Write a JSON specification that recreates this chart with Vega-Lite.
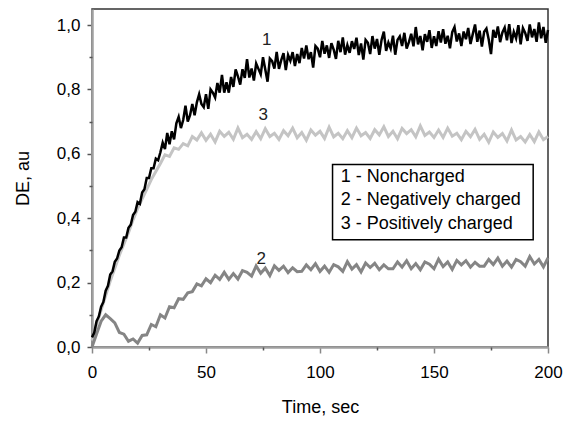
{
"$schema":"https://vega.github.io/schema/vega-lite/v6.json",
"width":456,"height":338,
"autosize":{"type":"none"},
"padding":{"left":92,"top":9,"right":20,"bottom":77},
"background":"white",
"config":{"view":{"stroke":"#333","strokeWidth":1.5},"font":"Liberation Sans"},
"datasets":{
"curves":[
{"t":0,"v":0.03,"s":"1"},{"t":1,"v":0.045,"s":"1"},{"t":2,"v":0.08,"s":"1"},{"t":3,"v":0.095,"s":"1"},{"t":4,"v":0.125,"s":"1"},{"t":5,"v":0.14,"s":"1"},{"t":6,"v":0.175,"s":"1"},{"t":7,"v":0.19,"s":"1"},{"t":8,"v":0.225,"s":"1"},{"t":9,"v":0.235,"s":"1"},
{"t":10,"v":0.265,"s":"1"},{"t":11,"v":0.275,"s":"1"},{"t":12,"v":0.30,"s":"1"},{"t":13,"v":0.31,"s":"1"},{"t":14,"v":0.34,"s":"1"},{"t":15,"v":0.34,"s":"1"},{"t":16,"v":0.37,"s":"1"},{"t":17,"v":0.38,"s":"1"},{"t":18,"v":0.41,"s":"1"},{"t":19,"v":0.42,"s":"1"},
{"t":20,"v":0.45,"s":"1"},{"t":21,"v":0.445,"s":"1"},{"t":22,"v":0.48,"s":"1"},{"t":23,"v":0.49,"s":"1"},{"t":24,"v":0.525,"s":"1"},{"t":25,"v":0.525,"s":"1"},{"t":26,"v":0.555,"s":"1"},{"t":27,"v":0.555,"s":"1"},{"t":28,"v":0.585,"s":"1"},{"t":29,"v":0.58,"s":"1"},
{"t":30,"v":0.605,"s":"1"},{"t":31,"v":0.635,"s":"1"},{"t":32,"v":0.615,"s":"1"},{"t":33,"v":0.665,"s":"1"},{"t":34,"v":0.63,"s":"1"},{"t":35,"v":0.67,"s":"1"},{"t":36,"v":0.645,"s":"1"},{"t":37,"v":0.695,"s":"1"},{"t":38,"v":0.715,"s":"1"},{"t":39,"v":0.68,"s":"1"},
{"t":40,"v":0.705,"s":"1"},{"t":41,"v":0.75,"s":"1"},{"t":42,"v":0.70,"s":"1"},{"t":43,"v":0.72,"s":"1"},{"t":44,"v":0.755,"s":"1"},{"t":45,"v":0.72,"s":"1"},{"t":46,"v":0.76,"s":"1"},{"t":47,"v":0.785,"s":"1"},{"t":48,"v":0.755,"s":"1"},{"t":49,"v":0.745,"s":"1"},
{"t":50,"v":0.785,"s":"1"},{"t":51,"v":0.74,"s":"1"},{"t":52,"v":0.80,"s":"1"},{"t":53,"v":0.79,"s":"1"},{"t":54,"v":0.775,"s":"1"},{"t":55,"v":0.82,"s":"1"},{"t":56,"v":0.79,"s":"1"},{"t":57,"v":0.845,"s":"1"},{"t":58,"v":0.79,"s":"1"},{"t":59,"v":0.822,"s":"1"},
{"t":60,"v":0.79,"s":"1"},{"t":61,"v":0.839,"s":"1"},{"t":62,"v":0.808,"s":"1"},{"t":63,"v":0.862,"s":"1"},{"t":64,"v":0.841,"s":"1"},{"t":65,"v":0.815,"s":"1"},{"t":66,"v":0.863,"s":"1"},{"t":67,"v":0.836,"s":"1"},{"t":68,"v":0.894,"s":"1"},{"t":69,"v":0.837,"s":"1"},
{"t":70,"v":0.865,"s":"1"},{"t":71,"v":0.828,"s":"1"},{"t":72,"v":0.881,"s":"1"},{"t":73,"v":0.864,"s":"1"},{"t":74,"v":0.847,"s":"1"},{"t":75,"v":0.90,"s":"1"},{"t":76,"v":0.862,"s":"1"},{"t":77,"v":0.824,"s":"1"},{"t":78,"v":0.896,"s":"1"},{"t":79,"v":0.888,"s":"1"},
{"t":80,"v":0.865,"s":"1"},{"t":81,"v":0.917,"s":"1"},{"t":82,"v":0.864,"s":"1"},{"t":83,"v":0.891,"s":"1"},{"t":84,"v":0.913,"s":"1"},{"t":85,"v":0.86,"s":"1"},{"t":86,"v":0.907,"s":"1"},{"t":87,"v":0.889,"s":"1"},{"t":88,"v":0.916,"s":"1"},{"t":89,"v":0.873,"s":"1"},
{"t":90,"v":0.91,"s":"1"},{"t":91,"v":0.882,"s":"1"},{"t":92,"v":0.929,"s":"1"},{"t":93,"v":0.896,"s":"1"},{"t":94,"v":0.937,"s":"1"},{"t":95,"v":0.894,"s":"1"},{"t":96,"v":0.916,"s":"1"},{"t":97,"v":0.868,"s":"1"},{"t":98,"v":0.935,"s":"1"},{"t":99,"v":0.927,"s":"1"},
{"t":100,"v":0.90,"s":"1"},{"t":101,"v":0.951,"s":"1"},{"t":102,"v":0.911,"s":"1"},{"t":103,"v":0.937,"s":"1"},{"t":104,"v":0.898,"s":"1"},{"t":105,"v":0.944,"s":"1"},{"t":106,"v":0.924,"s":"1"},{"t":107,"v":0.895,"s":"1"},{"t":108,"v":0.951,"s":"1"},{"t":109,"v":0.916,"s":"1"},
{"t":110,"v":0.962,"s":"1"},{"t":111,"v":0.908,"s":"1"},{"t":112,"v":0.938,"s":"1"},{"t":113,"v":0.914,"s":"1"},{"t":114,"v":0.95,"s":"1"},{"t":115,"v":0.926,"s":"1"},{"t":116,"v":0.961,"s":"1"},{"t":117,"v":0.907,"s":"1"},{"t":118,"v":0.943,"s":"1"},{"t":119,"v":0.893,"s":"1"},
{"t":120,"v":0.954,"s":"1"},{"t":121,"v":0.945,"s":"1"},{"t":122,"v":0.91,"s":"1"},{"t":123,"v":0.966,"s":"1"},{"t":124,"v":0.927,"s":"1"},{"t":125,"v":0.957,"s":"1"},{"t":126,"v":0.908,"s":"1"},{"t":127,"v":0.954,"s":"1"},{"t":128,"v":0.98,"s":"1"},{"t":129,"v":0.92,"s":"1"},
{"t":130,"v":0.946,"s":"1"},{"t":131,"v":0.927,"s":"1"},{"t":132,"v":0.967,"s":"1"},{"t":133,"v":0.908,"s":"1"},{"t":134,"v":0.954,"s":"1"},{"t":135,"v":0.965,"s":"1"},{"t":136,"v":0.935,"s":"1"},{"t":137,"v":0.976,"s":"1"},{"t":138,"v":0.927,"s":"1"},{"t":139,"v":0.947,"s":"1"},
{"t":140,"v":0.973,"s":"1"},{"t":141,"v":0.934,"s":"1"},{"t":142,"v":0.994,"s":"1"},{"t":143,"v":0.94,"s":"1"},{"t":144,"v":0.966,"s":"1"},{"t":145,"v":0.922,"s":"1"},{"t":146,"v":0.972,"s":"1"},{"t":147,"v":0.948,"s":"1"},{"t":148,"v":0.984,"s":"1"},{"t":149,"v":0.929,"s":"1"},
{"t":150,"v":0.965,"s":"1"},{"t":151,"v":0.935,"s":"1"},{"t":152,"v":0.981,"s":"1"},{"t":153,"v":0.946,"s":"1"},{"t":154,"v":0.987,"s":"1"},{"t":155,"v":0.942,"s":"1"},{"t":156,"v":0.967,"s":"1"},{"t":157,"v":0.928,"s":"1"},{"t":158,"v":0.978,"s":"1"},{"t":159,"v":0.994,"s":"1"},
{"t":160,"v":0.949,"s":"1"},{"t":161,"v":0.974,"s":"1"},{"t":162,"v":0.935,"s":"1"},{"t":163,"v":0.98,"s":"1"},{"t":164,"v":0.956,"s":"1"},{"t":165,"v":0.991,"s":"1"},{"t":166,"v":0.941,"s":"1"},{"t":167,"v":0.972,"s":"1"},{"t":168,"v":1.002,"s":"1"},{"t":169,"v":0.948,"s":"1"},
{"t":170,"v":0.983,"s":"1"},{"t":171,"v":0.933,"s":"1"},{"t":172,"v":0.979,"s":"1"},{"t":173,"v":0.989,"s":"1"},{"t":174,"v":0.955,"s":"1"},{"t":175,"v":0.91,"s":"1"},{"t":176,"v":0.985,"s":"1"},{"t":177,"v":0.961,"s":"1"},{"t":178,"v":0.996,"s":"1"},{"t":179,"v":0.947,"s":"1"},
{"t":180,"v":0.977,"s":"1"},{"t":181,"v":0.992,"s":"1"},{"t":182,"v":0.953,"s":"1"},{"t":183,"v":1.003,"s":"1"},{"t":184,"v":0.944,"s":"1"},{"t":185,"v":0.979,"s":"1"},{"t":186,"v":0.959,"s":"1"},{"t":187,"v":1.0,"s":"1"},{"t":188,"v":0.94,"s":"1"},{"t":189,"v":0.991,"s":"1"},
{"t":190,"v":0.976,"s":"1"},{"t":191,"v":0.951,"s":"1"},{"t":192,"v":1.002,"s":"1"},{"t":193,"v":0.962,"s":"1"},{"t":194,"v":0.988,"s":"1"},{"t":195,"v":0.948,"s":"1"},{"t":196,"v":1.008,"s":"1"},{"t":197,"v":0.959,"s":"1"},{"t":198,"v":0.994,"s":"1"},{"t":199,"v":0.945,"s":"1"},
{"t":200,"v":0.985,"s":"1"},
{"t":0,"v":0.02,"s":"3"},{"t":2,"v":0.07,"s":"3"},{"t":4,"v":0.115,"s":"3"},{"t":6,"v":0.16,"s":"3"},{"t":8,"v":0.205,"s":"3"},{"t":10,"v":0.245,"s":"3"},{"t":12,"v":0.285,"s":"3"},{"t":14,"v":0.32,"s":"3"},{"t":16,"v":0.355,"s":"3"},{"t":18,"v":0.395,"s":"3"},
{"t":20,"v":0.43,"s":"3"},{"t":22,"v":0.46,"s":"3"},{"t":24,"v":0.49,"s":"3"},{"t":26,"v":0.52,"s":"3"},{"t":28,"v":0.545,"s":"3"},{"t":30,"v":0.57,"s":"3"},{"t":32,"v":0.597,"s":"3"},{"t":34,"v":0.592,"s":"3"},{"t":36,"v":0.619,"s":"3"},{"t":38,"v":0.614,"s":"3"},
{"t":40,"v":0.632,"s":"3"},{"t":42,"v":0.625,"s":"3"},{"t":44,"v":0.654,"s":"3"},{"t":46,"v":0.643,"s":"3"},{"t":48,"v":0.665,"s":"3"},{"t":50,"v":0.642,"s":"3"},{"t":52,"v":0.661,"s":"3"},{"t":54,"v":0.637,"s":"3"},{"t":56,"v":0.67,"s":"3"},{"t":58,"v":0.654,"s":"3"},
{"t":60,"v":0.667,"s":"3"},{"t":62,"v":0.645,"s":"3"},{"t":64,"v":0.68,"s":"3"},{"t":66,"v":0.65,"s":"3"},{"t":68,"v":0.661,"s":"3"},{"t":70,"v":0.645,"s":"3"},{"t":72,"v":0.669,"s":"3"},{"t":74,"v":0.647,"s":"3"},{"t":76,"v":0.678,"s":"3"},{"t":78,"v":0.654,"s":"3"},
{"t":80,"v":0.664,"s":"3"},{"t":82,"v":0.645,"s":"3"},{"t":84,"v":0.672,"s":"3"},{"t":86,"v":0.656,"s":"3"},{"t":88,"v":0.68,"s":"3"},{"t":90,"v":0.65,"s":"3"},{"t":92,"v":0.666,"s":"3"},{"t":94,"v":0.642,"s":"3"},{"t":96,"v":0.674,"s":"3"},{"t":98,"v":0.658,"s":"3"},
{"t":100,"v":0.67,"s":"3"},{"t":102,"v":0.648,"s":"3"},{"t":104,"v":0.683,"s":"3"},{"t":106,"v":0.653,"s":"3"},{"t":108,"v":0.664,"s":"3"},{"t":110,"v":0.647,"s":"3"},{"t":112,"v":0.672,"s":"3"},{"t":114,"v":0.65,"s":"3"},{"t":116,"v":0.68,"s":"3"},{"t":118,"v":0.656,"s":"3"},
{"t":120,"v":0.666,"s":"3"},{"t":122,"v":0.648,"s":"3"},{"t":124,"v":0.675,"s":"3"},{"t":126,"v":0.659,"s":"3"},{"t":128,"v":0.684,"s":"3"},{"t":130,"v":0.654,"s":"3"},{"t":132,"v":0.67,"s":"3"},{"t":134,"v":0.647,"s":"3"},{"t":136,"v":0.679,"s":"3"},{"t":138,"v":0.663,"s":"3"},
{"t":140,"v":0.675,"s":"3"},{"t":142,"v":0.653,"s":"3"},{"t":144,"v":0.687,"s":"3"},{"t":146,"v":0.657,"s":"3"},{"t":148,"v":0.668,"s":"3"},{"t":150,"v":0.651,"s":"3"},{"t":152,"v":0.674,"s":"3"},{"t":154,"v":0.651,"s":"3"},{"t":156,"v":0.68,"s":"3"},{"t":158,"v":0.655,"s":"3"},
{"t":160,"v":0.664,"s":"3"},{"t":162,"v":0.644,"s":"3"},{"t":164,"v":0.67,"s":"3"},{"t":166,"v":0.653,"s":"3"},{"t":168,"v":0.676,"s":"3"},{"t":170,"v":0.645,"s":"3"},{"t":172,"v":0.661,"s":"3"},{"t":174,"v":0.636,"s":"3"},{"t":176,"v":0.668,"s":"3"},{"t":178,"v":0.651,"s":"3"},
{"t":180,"v":0.663,"s":"3"},{"t":182,"v":0.64,"s":"3"},{"t":184,"v":0.674,"s":"3"},{"t":186,"v":0.643,"s":"3"},{"t":188,"v":0.654,"s":"3"},{"t":190,"v":0.637,"s":"3"},{"t":192,"v":0.66,"s":"3"},{"t":194,"v":0.638,"s":"3"},{"t":196,"v":0.668,"s":"3"},{"t":198,"v":0.644,"s":"3"},
{"t":200,"v":0.654,"s":"3"},
{"t":0,"v":0.0,"s":"2"},{"t":2,"v":0.04,"s":"2"},{"t":4,"v":0.08,"s":"2"},{"t":6,"v":0.10,"s":"2"},{"t":8,"v":0.088,"s":"2"},{"t":10,"v":0.075,"s":"2"},{"t":12,"v":0.045,"s":"2"},{"t":14,"v":0.04,"s":"2"},{"t":16,"v":0.018,"s":"2"},{"t":18,"v":0.025,"s":"2"},
{"t":20,"v":0.012,"s":"2"},{"t":22,"v":0.036,"s":"2"},{"t":24,"v":0.038,"s":"2"},{"t":26,"v":0.07,"s":"2"},{"t":28,"v":0.063,"s":"2"},{"t":30,"v":0.1,"s":"2"},{"t":32,"v":0.09,"s":"2"},{"t":34,"v":0.125,"s":"2"},{"t":36,"v":0.122,"s":"2"},{"t":38,"v":0.15,"s":"2"},
{"t":40,"v":0.148,"s":"2"},{"t":42,"v":0.168,"s":"2"},{"t":44,"v":0.172,"s":"2"},{"t":46,"v":0.196,"s":"2"},{"t":48,"v":0.19,"s":"2"},{"t":50,"v":0.212,"s":"2"},{"t":52,"v":0.2,"s":"2"},{"t":54,"v":0.223,"s":"2"},{"t":56,"v":0.21,"s":"2"},{"t":58,"v":0.232,"s":"2"},
{"t":60,"v":0.21,"s":"2"},{"t":62,"v":0.228,"s":"2"},{"t":64,"v":0.211,"s":"2"},{"t":66,"v":0.237,"s":"2"},{"t":68,"v":0.232,"s":"2"},{"t":70,"v":0.22,"s":"2"},{"t":72,"v":0.252,"s":"2"},{"t":74,"v":0.229,"s":"2"},{"t":76,"v":0.245,"s":"2"},{"t":78,"v":0.222,"s":"2"},
{"t":80,"v":0.252,"s":"2"},{"t":82,"v":0.238,"s":"2"},{"t":84,"v":0.251,"s":"2"},{"t":86,"v":0.231,"s":"2"},{"t":88,"v":0.246,"s":"2"},{"t":90,"v":0.234,"s":"2"},{"t":92,"v":0.235,"s":"2"},{"t":94,"v":0.255,"s":"2"},{"t":96,"v":0.24,"s":"2"},{"t":98,"v":0.259,"s":"2"},
{"t":100,"v":0.235,"s":"2"},{"t":102,"v":0.251,"s":"2"},{"t":104,"v":0.232,"s":"2"},{"t":106,"v":0.256,"s":"2"},{"t":108,"v":0.249,"s":"2"},{"t":110,"v":0.235,"s":"2"},{"t":112,"v":0.265,"s":"2"},{"t":114,"v":0.242,"s":"2"},{"t":116,"v":0.256,"s":"2"},{"t":118,"v":0.233,"s":"2"},
{"t":120,"v":0.261,"s":"2"},{"t":122,"v":0.247,"s":"2"},{"t":124,"v":0.26,"s":"2"},{"t":126,"v":0.24,"s":"2"},{"t":128,"v":0.255,"s":"2"},{"t":130,"v":0.243,"s":"2"},{"t":132,"v":0.243,"s":"2"},{"t":134,"v":0.264,"s":"2"},{"t":136,"v":0.248,"s":"2"},{"t":138,"v":0.268,"s":"2"},
{"t":140,"v":0.243,"s":"2"},{"t":142,"v":0.259,"s":"2"},{"t":144,"v":0.24,"s":"2"},{"t":146,"v":0.264,"s":"2"},{"t":148,"v":0.257,"s":"2"},{"t":150,"v":0.243,"s":"2"},{"t":152,"v":0.273,"s":"2"},{"t":154,"v":0.25,"s":"2"},{"t":156,"v":0.264,"s":"2"},{"t":158,"v":0.241,"s":"2"},
{"t":160,"v":0.269,"s":"2"},{"t":162,"v":0.255,"s":"2"},{"t":164,"v":0.268,"s":"2"},{"t":166,"v":0.248,"s":"2"},{"t":168,"v":0.263,"s":"2"},{"t":170,"v":0.251,"s":"2"},{"t":172,"v":0.251,"s":"2"},{"t":174,"v":0.272,"s":"2"},{"t":176,"v":0.256,"s":"2"},{"t":178,"v":0.276,"s":"2"},
{"t":180,"v":0.251,"s":"2"},{"t":182,"v":0.267,"s":"2"},{"t":184,"v":0.248,"s":"2"},{"t":186,"v":0.272,"s":"2"},{"t":188,"v":0.265,"s":"2"},{"t":190,"v":0.251,"s":"2"},{"t":192,"v":0.281,"s":"2"},{"t":194,"v":0.258,"s":"2"},{"t":196,"v":0.272,"s":"2"},{"t":198,"v":0.249,"s":"2"},
{"t":200,"v":0.277,"s":"2"}
],
"box":[{"x1":105.5,"x2":193.5,"y1":0.333,"y2":0.567}],
"legend":[{"x":109.1,"y":0.512,"label":"1 - Noncharged"},{"x":109.1,"y":0.44,"label":"2 - Negatively charged"},{"x":109.1,"y":0.367,"label":"3 - Positively charged"}],
"labels":[{"x":76.6,"y":0.937,"label":"1"},{"x":75.1,"y":0.705,"label":"3"},{"x":74.2,"y":0.258,"label":"2"}]
},
"resolve":{"axis":{"x":"independent","y":"independent"}},
"layer":[
{"data":{"name":"curves"},"transform":[{"filter":"datum.s == '3'"}],
 "mark":{"type":"line","color":"#c4c4c4","strokeWidth":3},
 "encoding":{
  "x":{"field":"t","type":"quantitative","scale":{"domain":[0,200],"nice":false,"zero":false},
   "axis":{"orient":"bottom","values":[0,50,100,150,200],"format":"d","tickSize":6,"tickWidth":1.5,"tickColor":"#888","labelPadding":11,"labelFontSize":17,"labelFont":"Liberation Sans","labelColor":"#000","labelFlush":false,"labelOverlap":false,"domainColor":"#a0a0a0","domainWidth":2.5,"grid":false,"title":"Time, sec","titleFont":"Liberation Sans","titleFontSize":18,"titleFontWeight":"normal","titleColor":"#000","titlePadding":18}},
  "y":{"field":"v","type":"quantitative","scale":{"domain":[0,1.05],"nice":false,"zero":false},
   "axis":{"orient":"left","values":[0,0.2,0.4,0.6,0.8,1.0],"labelExpr":"replace(format(datum.value,'.1f'),'.',',')","tickSize":5,"tickWidth":1.5,"tickColor":"#555","labelPadding":7,"labelFontSize":17,"labelFont":"Liberation Sans","labelColor":"#000","labelFlush":false,"labelOverlap":false,"domainColor":"#a0a0a0","domainWidth":2.5,"grid":false,"title":"DE, au","titleFont":"Liberation Sans","titleFontSize":18,"titleFontWeight":"normal","titleColor":"#000","titlePadding":24}}
 }},
{"data":{"name":"curves"},"transform":[{"filter":"datum.s == '2'"}],
 "mark":{"type":"line","color":"#858585","strokeWidth":3},
 "encoding":{
  "x":{"field":"t","type":"quantitative","axis":{"orient":"bottom","values":[25,75,125,175],"labels":false,"domain":false,"grid":false,"tickSize":3,"tickWidth":1.5,"tickColor":"#555","title":null}},
  "y":{"field":"v","type":"quantitative","axis":{"orient":"left","values":[0.1,0.3,0.5,0.7,0.9],"labels":false,"domain":false,"grid":false,"tickSize":3,"tickWidth":1.5,"tickColor":"#555","title":null}}
 }},
{"data":{"name":"curves"},"transform":[{"filter":"datum.s == '1'"}],
 "mark":{"type":"line","color":"#000","strokeWidth":2.5},
 "encoding":{
  "x":{"field":"t","type":"quantitative","axis":null},
  "y":{"field":"v","type":"quantitative","axis":null}
 }},
{"data":{"name":"box"},
 "mark":{"type":"rect","fill":"white","stroke":"#000","strokeWidth":1.5},
 "encoding":{
  "x":{"field":"x1","type":"quantitative","axis":null},"x2":{"field":"x2"},
  "y":{"field":"y1","type":"quantitative","axis":null},"y2":{"field":"y2"}
 }},
{"data":{"name":"legend"},
 "mark":{"type":"text","align":"left","baseline":"alphabetic","font":"Liberation Sans","fontSize":18,"color":"#000"},
 "encoding":{
  "x":{"field":"x","type":"quantitative","axis":null},
  "y":{"field":"y","type":"quantitative","axis":null},
  "text":{"field":"label"}
 }},
{"data":{"name":"labels"},
 "mark":{"type":"text","align":"center","baseline":"alphabetic","font":"Liberation Sans","fontSize":17,"color":"#222"},
 "encoding":{
  "x":{"field":"x","type":"quantitative","axis":null},
  "y":{"field":"y","type":"quantitative","axis":null},
  "text":{"field":"label"}
 }}
]
}
